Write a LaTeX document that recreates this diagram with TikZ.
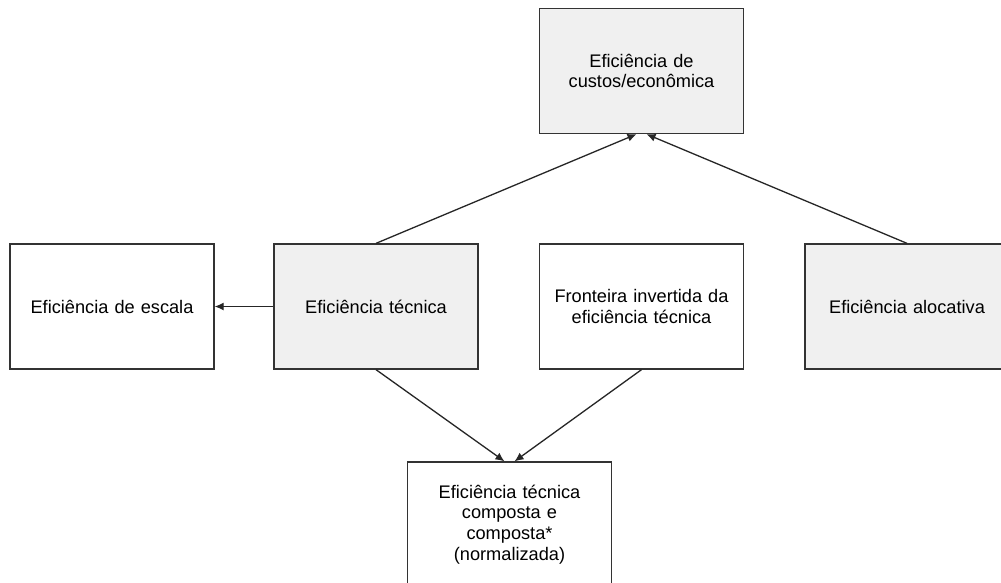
\documentclass[tikz,border=0pt]{standalone}
\usepackage{fontspec}
\setmainfont{Liberation Sans}
\usetikzlibrary{arrows.meta}
\begin{document}
\begin{tikzpicture}[x=1pt,y=-1pt,
  box/.style={draw=black!80, line width=1.3pt, minimum width=204pt, minimum height=125pt,
    inner sep=0pt, align=center, text width=190pt, font=\fontsize{18.2}{20.8}\selectfont},
  shaded/.style={box, fill=black!6},
  plain/.style={box, fill=white},
  link/.style={draw=black!85, line width=1.3pt, -{Latex[length=9pt,width=8pt]}}]
\clip (0,0) rectangle (1001,582);
\fill[white] (0,0) rectangle (1001,582);
\node[shaded] (custo) at (641.5,71) {Eficiência de\\custos/econômica};
\node[plain] (escala) at (112,306.5) {Eficiência de escala};
\node[shaded] (tecnica) at (376,306.5) {Eficiência técnica};
\node[plain] (fronteira) at (641.5,306.5) {Fronteira invertida da\\eficiência técnica};
\node[shaded] (alocativa) at (907,306.5) {Eficiência alocativa};
\node[plain] (composta) at (509.5,524.5) {Eficiência técnica\\composta e\\composta*\\(normalizada)};
\draw[link] (tecnica.north) -- ([xshift=-5pt]custo.south);
\draw[link] (alocativa.north) -- ([xshift=5pt]custo.south);
\draw[link] (tecnica.west) -- (escala.east);
\draw[link] (tecnica.south) -- ([xshift=-5pt]composta.north);
\draw[link] (fronteira.south) -- ([xshift=5pt]composta.north);
\end{tikzpicture}
\end{document}
